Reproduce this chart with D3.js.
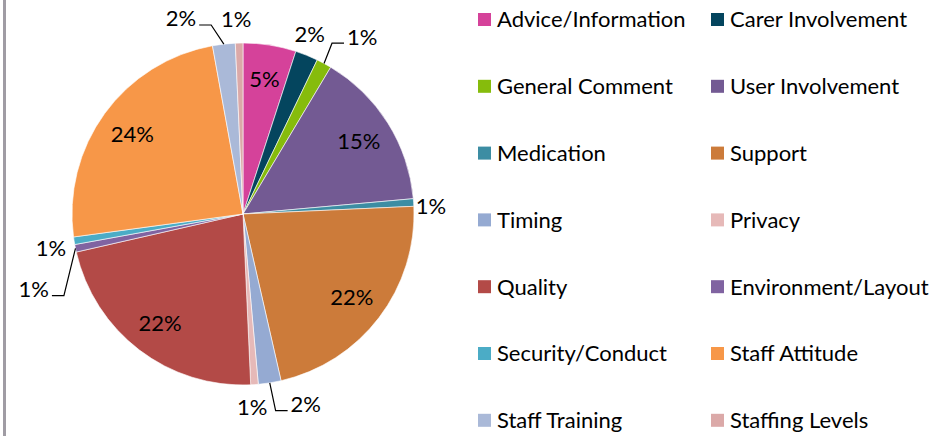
<!DOCTYPE html>
<html>
<head>
<meta charset="utf-8">
<script src="https://cdn.jsdelivr.net/npm/d3@7"></script>
<style>
  html, body { margin: 0; padding: 0; background: #fff; }
  svg { display: block; }
  text { font-family: Lato, "Open Sans", sans-serif; fill: #000; }
</style>
</head>
<body>
<svg id="chart" width="940" height="436"></svg>
<script>
// Feedback categories, in clockwise order starting at 12 o'clock
const categories = [
  "Advice/Information", "Carer Involvement", "General Comment", "User Involvement",
  "Medication", "Support", "Timing", "Privacy",
  "Quality", "Environment/Layout", "Security/Conduct", "Staff Attitude",
  "Staff Training", "Staffing Levels"
];
// Number of comments per category
const counts = [7, 3, 2, 21, 1, 31, 3, 1, 31, 1, 1, 34, 3, 1];
const colors = [
  "#D5429A", "#04455E", "#86BC0C", "#735A93",
  "#3C8DA3", "#CC7B3A", "#95AAD2", "#E6B9B8",
  "#B34A47", "#8063A1", "#4BACC6", "#F79748",
  "#AAB9D8", "#DBA9A8"
];

// Label placement: "in" = inside the slice; otherwise polar position
// [angle in degrees clockwise from top, distance as fraction of radius, leader line?]
const labelPlacement = [
  "in", [20.4, 1.12, false], [33.9, 1.25, true], "in",
  [87.6, 1.10, false], "in", [161.7, 1.17, true], [177.3, 1.13, false],
  "in", [250.3, 1.30, true], [260.0, 1.14, false], "in",
  [342.4, 1.20, true], [358.0, 1.14, false]
];

const svg = d3.select("#chart");
const cx = 243, cy = 214, R = 171;
const fontSize = 22;

// left frame line
svg.append("rect").attr("x", 3).attr("y", 0).attr("width", 3).attr("height", 436)
  .attr("fill", "#A09CA4");

const data = categories.map((c, i) => ({ name: c, value: counts[i], color: colors[i], place: labelPlacement[i] }));
const total = d3.sum(counts);

const pie = d3.pie().value(d => d.value).sort(null);
const arcs = pie(data);
const arc = d3.arc().innerRadius(0).outerRadius(R);
const labelArc = d3.arc().innerRadius(R * 0.8).outerRadius(R * 0.8);

const g = svg.append("g").attr("transform", `translate(${cx},${cy})`);

g.selectAll("path.slice").data(arcs).enter().append("path")
  .attr("class", "slice")
  .attr("d", arc)
  .attr("fill", d => d.data.color)
  .attr("stroke", "#fff")
  .attr("stroke-width", 0.6)
  .attr("stroke-linejoin", "round");

const pct = d => Math.round(d.data.value / total * 100) + "%";
const polar = (deg, r) => {
  const a = deg * Math.PI / 180;
  return [Math.sin(a) * r, -Math.cos(a) * r];
};

arcs.forEach(d => {
  const p = d.data.place;
  if (p === "in") {
    const [x, y] = labelArc.centroid(d);
    g.append("text").attr("x", x).attr("y", y)
      .attr("text-anchor", "middle").attr("dy", "0.36em")
      .style("font-size", fontSize + "px").text(pct(d));
    return;
  }
  const [lx, ly] = polar(p[0], R * p[1]);
  const t = g.append("text").attr("x", lx).attr("y", ly)
    .attr("text-anchor", "middle").attr("dy", "0.36em")
    .style("font-size", fontSize + "px").text(pct(d));
  if (p[2]) {
    const w = t.node().getComputedTextLength();
    const mid = (d.startAngle + d.endAngle) / 2;
    const sx = Math.sin(mid) * R, sy = -Math.cos(mid) * R;
    const right = lx > sx;
    const baseY = ly + fontSize * 0.3;
    const endX = right ? lx - w / 2 - 3 : lx + w / 2 + 3;
    const elbowX = right ? endX - 12 : endX + 12;
    g.append("polyline")
      .attr("points", `${sx},${sy} ${elbowX},${baseY} ${endX},${baseY}`)
      .attr("fill", "none").attr("stroke", "#000").attr("stroke-width", 1.2);
  }
});

// Legend: two columns
const legend = svg.append("g");
const colX = [478, 711];
const rowY0 = 19.5, rowStep = 66.8, sw = 13;
data.forEach((d, i) => {
  const col = i % 2, row = Math.floor(i / 2);
  const x = colX[col], y = rowY0 + row * rowStep;
  legend.append("rect").attr("x", x).attr("y", y - sw / 2).attr("width", sw).attr("height", sw)
    .attr("fill", d.color);
  legend.append("text").attr("x", x + 19).attr("y", y).attr("dy", "0.36em")
    .style("font-size", fontSize + "px").text(d.name);
});
</script>
</body>
</html>
